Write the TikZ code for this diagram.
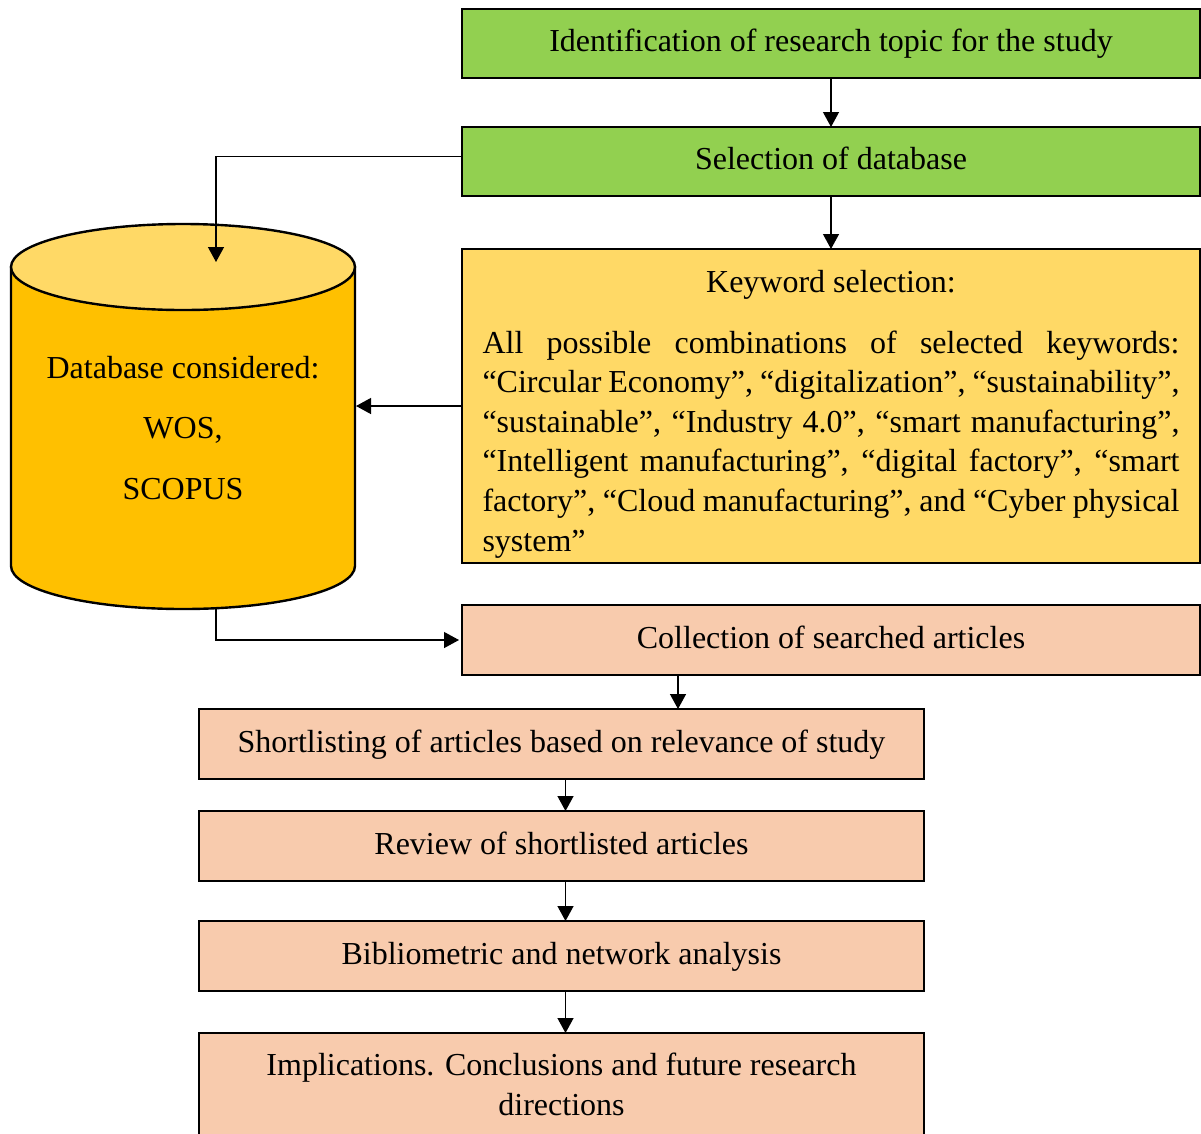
\documentclass[tikz,border=0pt]{standalone}
\usepackage{fontspec}
\setmainfont{Liberation Serif}
\usepackage{tikz}
\usetikzlibrary{arrows.meta, positioning}
\definecolor{stepgreen}{HTML}{92D050}
\definecolor{kwyellow}{HTML}{FFD966}
\definecolor{dbbody}{HTML}{FFC000}
\definecolor{steppeach}{HTML}{F8CBAD}
\tikzset{
stepbox/.style={
    rectangle,
    draw=black,
    line width=2.4pt,
    inner sep=0pt,
    outer sep=0pt,
    minimum height=69pt,
    align=center,
    font=\fontsize{32}{40}\selectfont
},
oneline/.style={text height=24pt, text depth=8pt},
topbox/.style={stepbox, oneline, minimum width=738pt},
lowbox/.style={stepbox, fill=steppeach, minimum width=725pt, minimum height=70pt}
}

\begin{document}
\begin{tikzpicture}[
        x=1pt, y=1pt,
        >={Triangle[length=15pt, width=16pt]},
        line width=1.3pt
    ]
    \useasboundingbox (0,0) rectangle (1201,-1133);
    \clip (0,0) rectangle (1201,-1133);

    % right column
    \node[topbox, fill=stepgreen, anchor=north west] (ident) at (462,-9) {Identification of research topic for the study};
    \node[topbox, fill=stepgreen, below=49pt of ident] (select) {Selection of database};
    \node[topbox, fill=kwyellow, minimum height=314pt, below=53pt of select] (kw) {};
    \node[font=\fontsize{32}{40}\selectfont] (kwtitle) at ([yshift=-36pt]kw.north) {Keyword selection:};
    \node[anchor=north, inner sep=0pt, text width=697pt, align=justify,
          font=\fontsize{32}{39.6}\selectfont] (kwlist) at ([yshift=-81pt]kw.north)
        {All possible combinations of selected keywords:\linebreak
         “Circular Economy”, “digitalization”, “sustainability”,\linebreak
         “sustainable”, “Industry 4.0”, “smart manufacturing”,\linebreak
         “Intelligent manufacturing”, “digital factory”, “smart\linebreak
         factory”, “Cloud manufacturing”, and “Cyber physical\linebreak
         system”};
    \node[topbox, fill=steppeach, minimum height=70pt, below=42pt of kw] (collect) {Collection of searched articles};

    % database cylinder
    \filldraw[fill=dbbody, line width=2.4pt] (11,-267) -- (11,-566)
        arc[start angle=180, end angle=360, x radius=172, y radius=43] -- (355,-267) -- cycle;
    \filldraw[fill=kwyellow, line width=2.4pt] (183,-267) ellipse [x radius=172, y radius=43];
    \node[align=center, font=\fontsize{32}{60.5}\selectfont] (db) at (183,-428) {Database considered:\\WOS,\\SCOPUS};
    \coordinate (dbin) at (216,-262);
    \coordinate (dbside) at (356,0);
    \coordinate (dbout) at (216,-609);

    % lower column
    \node[lowbox, oneline, anchor=north west] (short) at (199,-709) {Shortlisting of articles based on relevance of study};
    \node[lowbox, oneline, below=32pt of short] (review) {Review of shortlisted articles};
    \node[lowbox, oneline, below=40pt of review] (biblio) {Bibliometric and network analysis};
    \node[lowbox, minimum height=102pt, below=42pt of biblio] (impl) {Implications. Conclusions and future research\\directions};

    % edges
    \draw[->] (ident) -- (select);
    \draw[->] (select) -- (kw);
    \draw[->] ([yshift=5pt]select.west) -| (dbin);
    \draw[->] (kw.west) -- (kw.west -| dbside);
    \draw[->] (dbout) |- ([xshift=-3pt]collect.west);
    \draw[->] ([xshift=-153pt]collect.south) -- ([xshift=-153pt]collect.south |- short.north);
    \draw[->] ([xshift=4pt]short.south) -- ([xshift=4pt]review.north);
    \draw[->] ([xshift=4pt]review.south) -- ([xshift=4pt]biblio.north);
    \draw[->] ([xshift=4pt]biblio.south) -- ([xshift=4pt]impl.north);

\end{tikzpicture}
\end{document}
